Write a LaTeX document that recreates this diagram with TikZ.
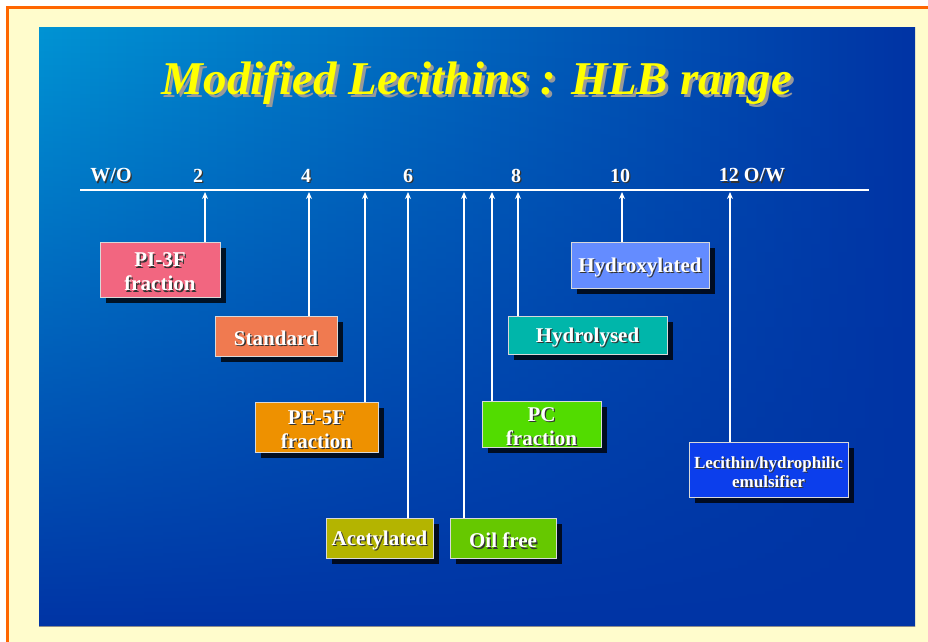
\documentclass[tikz,border=0pt]{standalone}
\usepackage{fontspec}
\setmainfont{Liberation Serif}
\usetikzlibrary{shadows,fadings,arrows.meta}

\definecolor{frameorange}{RGB}{255,102,0}
\definecolor{cream}{RGB}{255,252,204}
\definecolor{panellight}{RGB}{0,148,212}
\definecolor{paneldark}{RGB}{0,52,165}
\definecolor{titleyellow}{RGB}{255,255,0}
\definecolor{pibox}{RGB}{242,102,128}
\definecolor{stdbox}{RGB}{240,122,80}
\definecolor{pebox}{RGB}{238,145,0}
\definecolor{acebox}{RGB}{180,180,0}
\definecolor{oilbox}{RGB}{102,200,0}
\definecolor{pcbox}{RGB}{82,220,0}
\definecolor{hydrolbox}{RGB}{0,182,170}
\definecolor{hydroxbox}{RGB}{100,140,255}
\definecolor{lecbox}{RGB}{12,62,236}

\newcommand\shtext[3][1.3pt]{\makebox[0pt][l]{\hspace{#1}\raisebox{-#1}[0pt][0pt]{\color{#2}#3}}#3}
\newcommand\wt[1]{\raisebox{-2.5pt}[\height][\depth]{\shtext{black!80}{#1}}}

\tikzset{
  hlbbox/.style={draw=white!85!black, line width=0.9pt, text=white, align=center,
    font=\bfseries\fontsize{21}{24}\selectfont, inner sep=0pt,
    drop shadow={shadow xshift=6pt, shadow yshift=-6pt, fill=black, opacity=0.8}},
  ticklabel/.style={text=white, font=\bfseries\fontsize{20}{22}\selectfont, inner sep=0pt},
  hlbarrow/.style={white, line width=1.8pt, -{Stealth[length=7pt,width=6pt]}}
}

\begin{document}
\begin{tikzpicture}[x=1pt,y=-1pt]
      \useasboundingbox (0,0) rectangle (928,641);
      \clip (0,0) rectangle (928,641);
      \fill[white] (0,0) rectangle (928,641);
      \draw[fill=cream, draw=frameorange, line width=3pt] (7.5,7.5) rectangle (960,680);

      \shade[left color=panellight, right color=paneldark] (39,27) rectangle (915,626);
      \fill[paneldark, path fading=north] (39,27) rectangle (915,626);
      \draw[black!45, line width=1pt] (39,626) -- (915,626);

      \node[font=\bfseries\itshape\fontsize{47}{50}\selectfont, text=titleyellow] (title) at (477,83)
        {\shtext[3pt]{black!40}{Modified Lecithins : HLB range}};

      \coordinate (axl) at (80,190);
      \coordinate (axr) at (869,190);
      \draw[white, line width=2.5pt] (axl) -- (axr);

      \node[ticklabel] (wo) at (111,173) {\wt{W/O}};
      \node[ticklabel] (n2) at (198,173) {\wt{2}};
      \node[ticklabel] (n4) at (306,173) {\wt{4}};
      \node[ticklabel] (n6) at (408,173) {\wt{6}};
      \node[ticklabel] (n8) at (516,173) {\wt{8}};
      \node[ticklabel] (n10) at (620,173) {\wt{10}};
      \node[ticklabel] (ow) at (752,173) {\wt{12 O/W}};

      \coordinate (h2) at (205,192);
      \coordinate (h4) at (309,192);
      \coordinate (h5) at (365,192);
      \coordinate (h6) at (408,192);
      \coordinate (h7) at (464,192);
      \coordinate (h75) at (492,192);
      \coordinate (h8) at (518,192);
      \coordinate (h10) at (622,192);
      \coordinate (h12) at (730,192);

      \node[hlbbox, fill=pibox, minimum width=120, minimum height=55] (pi) at (160,269.5) {\wt{PI-3F}\\\wt{fraction}};
      \node[hlbbox, fill=stdbox, minimum width=122, minimum height=40] (std) at (276,336) {\wt{Standard}};
      \node[hlbbox, fill=pebox, minimum width=123, minimum height=50] (pe) at (316.5,427) {\wt{PE-5F}\\\wt{fraction}};
      \node[hlbbox, fill=acebox, minimum width=107, minimum height=40] (ace) at (379.5,538) {\wt{Acetylated}};
      \node[hlbbox, fill=oilbox, minimum width=106, minimum height=40] (oil) at (503,538) {\wt{Oil free}};
      \node[hlbbox, fill=pcbox, minimum width=119, minimum height=46] (pc) at (541.5,424) {\wt{PC}\\\wt{fraction}};
      \node[hlbbox, fill=hydrolbox, minimum width=159, minimum height=38] (hydrol) at (587.5,335) {\wt{Hydrolysed}};
      \node[hlbbox, fill=hydroxbox, minimum width=138, minimum height=46] (hydrox) at (640,265) {\wt{Hydroxylated}};
      \node[hlbbox, fill=lecbox, minimum width=159, minimum height=55, font=\bfseries\fontsize{17}{19}\selectfont] (lec) at (768.5,469.5)
        {\wt{Lecithin/hydrophilic}\\\wt{emulsifier}};

      \draw[hlbarrow] (pi.north -| h2) -- (h2);
      \draw[hlbarrow] (std.north -| h4) -- (h4);
      \draw[hlbarrow] (pe.north -| h5) -- (h5);
      \draw[hlbarrow] (ace.north -| h6) -- (h6);
      \draw[hlbarrow] (oil.north -| h7) -- (h7);
      \draw[hlbarrow] (pc.north -| h75) -- (h75);
      \draw[hlbarrow] (hydrol.north -| h8) -- (h8);
      \draw[hlbarrow] (hydrox.north -| h10) -- (h10);
      \draw[hlbarrow] (lec.north -| h12) -- (h12);
\end{tikzpicture}
\end{document}
